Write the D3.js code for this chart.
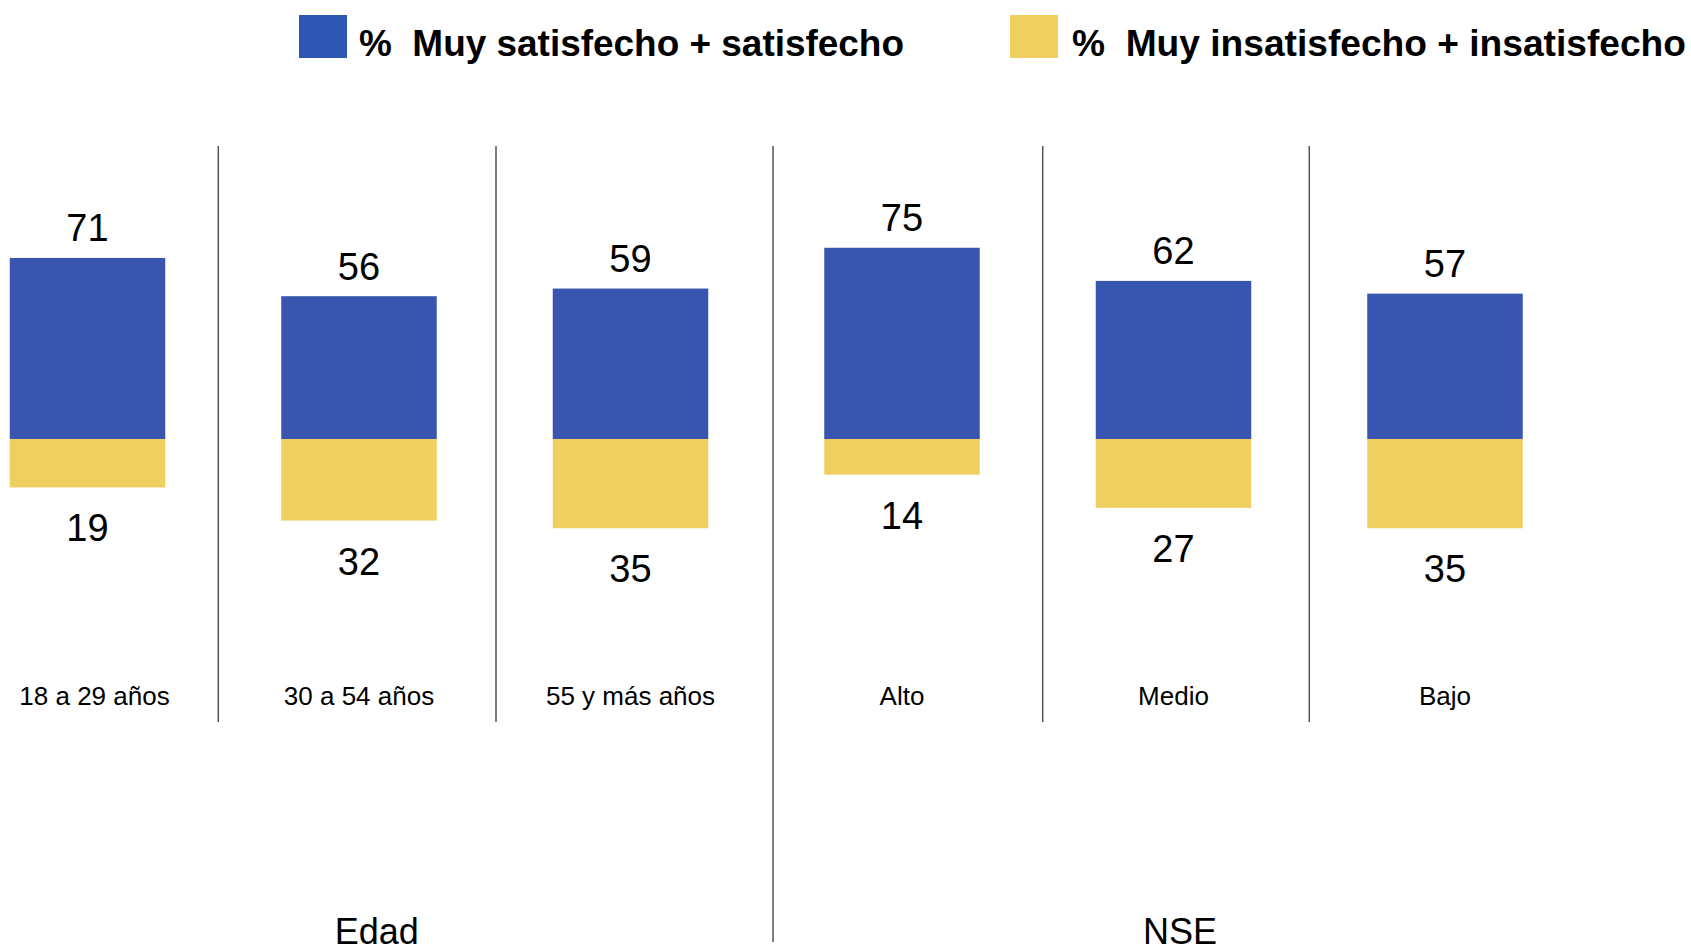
<!DOCTYPE html>
<html>
<head>
<meta charset="utf-8">
<script src="https://cdn.jsdelivr.net/npm/d3@7"></script>
<style>
  html, body { margin: 0; padding: 0; background: #ffffff; }
  svg { display: block; font-family: "Liberation Sans", Arial, sans-serif; }
</style>
</head>
<body>
<svg id="chart" width="1691" height="951"></svg>
<script>
// ---- Data ----
const categories = ["18 a 29 años", "30 a 54 años", "55 y más años", "Alto", "Medio", "Bajo"];
const satisfied = [71, 56, 59, 75, 62, 57];
const dissatisfied = [19, 32, 35, 14, 27, 35];
const groups = ["Edad", "NSE"];
const seriesNames = ["% Muy satisfecho + satisfecho", "% Muy insatisfecho + insatisfecho"];
const seriesColors = ["#3856B0", "#EFCF60"];
const legendColors = ["#2D55B3", "#EFCF60"];

// ---- Layout ----
const baseY = 439;
const svg = d3.select("#chart");

const x = d3.scalePoint().domain(categories).range([87.5, 1445]);
const barW = 155.5;
const y = d3.scaleLinear().domain([-100, 100]).range([baseY + 255, baseY - 255]);

const rows = categories.map((c, i) => ({ cat: c, sat: satisfied[i], dis: dissatisfied[i] }));

// separator lines (layout positions)
const sepXs = [218.3, 496, 773, 1042.7, 1309.3];
const sepBottom = [722, 722, 942, 722, 722];
svg.append("g").selectAll("line").data(sepXs).join("line")
  .attr("x1", d => d).attr("x2", d => d)
  .attr("y1", 146)
  .attr("y2", (d, i) => sepBottom[i])
  .attr("stroke", "#555555").attr("stroke-width", 1.5);

// bars
svg.append("g").selectAll("rect").data(rows).join("rect")
  .attr("x", d => x(d.cat) - barW / 2)
  .attr("width", barW)
  .attr("y", d => y(d.sat))
  .attr("height", d => y(0) - y(d.sat))
  .attr("fill", seriesColors[0]);

svg.append("g").selectAll("rect").data(rows).join("rect")
  .attr("x", d => x(d.cat) - barW / 2)
  .attr("width", barW)
  .attr("y", y(0))
  .attr("height", d => y(-d.dis) - y(0))
  .attr("fill", seriesColors[1]);

// value labels
svg.append("g").selectAll("text").data(rows).join("text")
  .attr("x", d => x(d.cat))
  .attr("y", d => y(d.sat) - 16.5)
  .attr("text-anchor", "middle")
  .attr("font-size", 38)
  .attr("fill", "#000")
  .text(d => d.sat);

svg.append("g").selectAll("text").data(rows).join("text")
  .attr("x", d => x(d.cat))
  .attr("y", d => y(-d.dis) + 54)
  .attr("text-anchor", "middle")
  .attr("font-size", 38)
  .attr("fill", "#000")
  .text(d => d.dis);

// category labels
svg.append("g").selectAll("text").data(categories).join("text")
  .attr("x", (d, i) => x(d) + (i === 0 ? 7 : 0))
  .attr("y", 705)
  .attr("text-anchor", "middle")
  .attr("font-size", 26)
  .attr("fill", "#000")
  .text(d => d);

// group labels
const groupX = [376.7, 1180];
svg.append("g").selectAll("text").data(groups).join("text")
  .attr("x", (d, i) => groupX[i])
  .attr("y", 944)
  .attr("text-anchor", "middle")
  .attr("font-size", 36)
  .attr("fill", "#000")
  .text(d => d);

// legend
const legendX = [299, 1010];
const legendTextW = [545, 614];
const lg = svg.append("g").selectAll("g").data(seriesNames).join("g")
  .attr("transform", (d, i) => `translate(${legendX[i]},0)`);
lg.append("rect").attr("x", 0).attr("y", 15).attr("width", 48).attr("height", 43)
  .attr("fill", (d, i) => legendColors[i]);
lg.append("text").attr("x", (d, i) => i === 0 ? 60 : 62).attr("y", 55.7)
  .attr("font-size", 37.5).attr("font-weight", "bold").attr("fill", "#000")
  .attr("xml:space", "preserve")
  .attr("textLength", (d, i) => legendTextW[i])
  .attr("lengthAdjust", "spacingAndGlyphs")
  .text(d => d.replace("% ", "%  "));
</script>
</body>
</html>
